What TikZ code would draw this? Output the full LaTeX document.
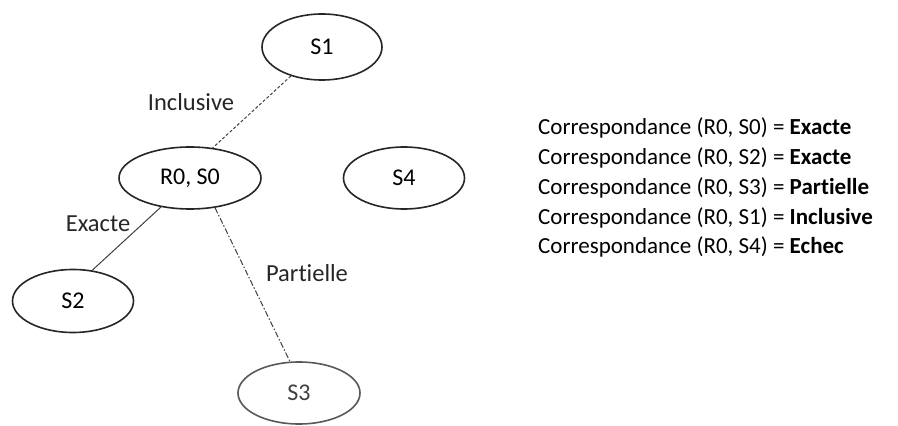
\documentclass[tikz,border=0pt]{standalone}
\usepackage{fontspec}
\setmainfont{Carlito}[Ligatures=NoCommon]
\usetikzlibrary{shapes.geometric}
\begin{document}
\begin{tikzpicture}[x=1pt,y=1pt,
  state/.style={ellipse,draw=black!85,line width=1.6pt,inner sep=0pt,
    font=\fontsize{24}{28}\selectfont},
  link/.style={draw=black!75,line width=1pt},
  lbl/.style={font=\fontsize{24.5}{28}\selectfont,text=black!85,inner sep=0pt},
  row/.style={anchor=west,font=\fontsize{23}{27}\selectfont,inner sep=0pt}]
\useasboundingbox[fill=white] (0,0) rectangle (898,426);

% graph nodes
\node[state,minimum width=120pt,minimum height=66pt] (s1) at (322,379) {S1};
\node[state,minimum width=142pt,minimum height=62pt] (r0) at (190,248) {R0, S0};
\node[state,minimum width=121pt,minimum height=62pt] (s4) at (404,248) {S4};
\node[state,minimum width=121pt,minimum height=63pt] (s2) at (73,125) {S2};
\node[state,minimum width=122pt,minimum height=62pt,draw=black!65,text=black!75] (s3) at (299,33) {S3};

% connectors
\draw[link,dash pattern=on 3pt off 2pt] (s1.223) -- (r0.53);
\draw[link] (r0.225) -- (s2.58);
\draw[link,dash pattern=on 6pt off 2pt on 1.5pt off 2pt] (r0.-50) -- (s3.106);

% connector labels
\node[lbl] (lincl) at (191,324) {Inclusive};
\node[lbl] (lexact) at (98,202) {Exacte};
\node[lbl] (lpart) at (307,153) {Partielle};

% summary
\node[row] (c0) at (538,298) {Correspondance (R0, S0) = \textbf{Exacte}};
\node[row] (c2) at (538,268) {Correspondance (R0, S2) = \textbf{Exacte}};
\node[row] (c3) at (538,238) {Correspondance (R0, S3) = \textbf{Partielle}};
\node[row] (c1) at (538,208) {Correspondance (R0, S1) = \textbf{Inclusive}};
\node[row] (c4) at (538,179) {Correspondance (R0, S4) = \textbf{Echec}};
\end{tikzpicture}
\end{document}
